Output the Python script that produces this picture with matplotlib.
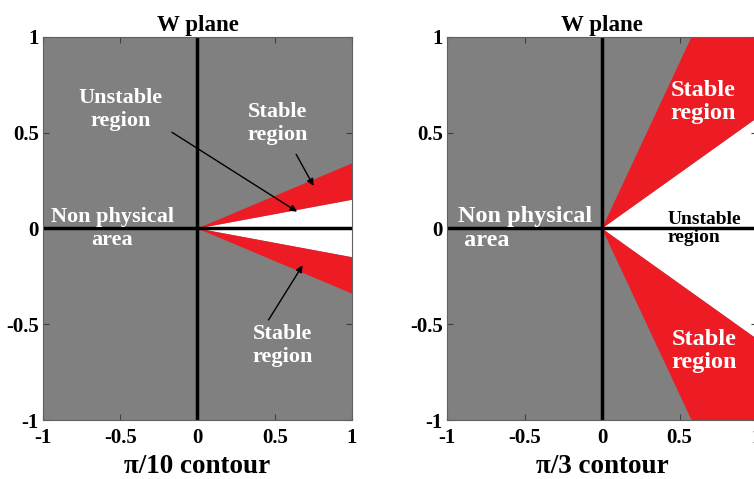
import numpy as np
import matplotlib
matplotlib.use("Agg")
import matplotlib.pyplot as plt

plt.rcParams['font.family'] = ['Liberation Serif', 'DejaVu Serif']
plt.rcParams['font.weight'] = 'bold'

# boundary slopes of the wedges (y/x): unstable edge, stable outer edge
contour_labels = ["\u03c0/10 contour", "\u03c0/3 contour"]
inner_slopes = [0.15, np.tan(np.pi / 6)]
outer_slopes = [0.34, np.tan(np.pi / 3)]
ticks = [-1, -0.5, 0, 0.5, 1]
tick_labels = ["-1", "-0.5", "0", "0.5", "1"]

GREY = "#808080"
RED = "#ED1C24"

fig = plt.figure(figsize=(7.54, 4.79), dpi=100)
ax1 = fig.add_axes([43 / 754, 1 - 420 / 479, 309 / 754, 383 / 479])
ax2 = fig.add_axes([447 / 754, 1 - 420 / 479, 310 / 754, 383 / 479])

for ax, lab, k_in, k_out in zip([ax1, ax2], contour_labels, inner_slopes, outer_slopes):
    ax.set_facecolor(GREY)
    X = 3.0
    # unstable (white) wedge
    ax.fill([0, X, X], [0, k_in * X, -k_in * X], color="white", lw=0)
    # stable (red) wedges
    for s in (1, -1):
        ax.fill([0, X, X], [0, s * k_in * X, s * k_out * X], color=RED, lw=0)
    ax.axhline(0, color="black", lw=2.5)
    ax.axvline(0, color="black", lw=2.5)
    ax.set_xlim(-1, 1)
    ax.set_ylim(-1, 1)
    ax.set_xticks(ticks)
    ax.set_xticklabels(tick_labels)
    ax.set_yticks(ticks)
    ax.set_yticklabels(tick_labels)
    ax.tick_params(direction="in", length=4, top=True, right=True,
                   labelsize=15, color="#404040")
    ax.tick_params(axis="x", pad=6)
    ax.tick_params(axis="y", pad=3)
    for sp in ax.spines.values():
        sp.set_color("#606060")
        sp.set_linewidth(0.8)
    ax.set_title("W plane", fontsize=16.5, fontweight="bold", pad=4)
    ax.set_xlabel(lab, fontsize=19.5, fontweight="bold", labelpad=4)

# left panel labels
fs = 16
ax1.text(-0.55, 0.0, "Non physical\narea", color="white", fontsize=fs,
         ha="center", va="center", linespacing=1.2)
ax1.text(-0.50, 0.62, "Unstable\nregion", color="white", fontsize=fs,
         ha="center", va="center", linespacing=1.2)
ax1.annotate("", xy=(0.66, 0.08), xytext=(-0.18, 0.51),
             arrowprops=dict(arrowstyle="-|>", color="black", lw=1, mutation_scale=10))
ax1.text(0.52, 0.55, "Stable\nregion", color="white", fontsize=fs,
         ha="center", va="center", linespacing=1.2)
ax1.annotate("", xy=(0.76, 0.21), xytext=(0.63, 0.40),
             arrowprops=dict(arrowstyle="-|>", color="black", lw=1, mutation_scale=10))
ax1.text(0.55, -0.61, "Stable\nregion", color="white", fontsize=fs,
         ha="center", va="center", linespacing=1.2)
ax1.annotate("", xy=(0.69, -0.18), xytext=(0.45, -0.49),
             arrowprops=dict(arrowstyle="-|>", color="black", lw=1, mutation_scale=10))

# right panel labels
fs2 = 17.5
ax2.text(-0.93, 0.0, "Non physical\n area", color="white", fontsize=fs2,
         ha="left", va="center", linespacing=1.15)
ax2.text(0.65, 0.66, "Stable\nregion", color="white", fontsize=fs2,
         ha="center", va="center", linespacing=1.15)
ax2.text(0.66, -0.64, "Stable\nregion", color="white", fontsize=fs2,
         ha="center", va="center", linespacing=1.15)
ax2.text(0.42, 0.0, "Unstable\nregion", color="black", fontsize=14,
         ha="left", va="center", linespacing=1.1)

fig.savefig("out.png", dpi=100)
